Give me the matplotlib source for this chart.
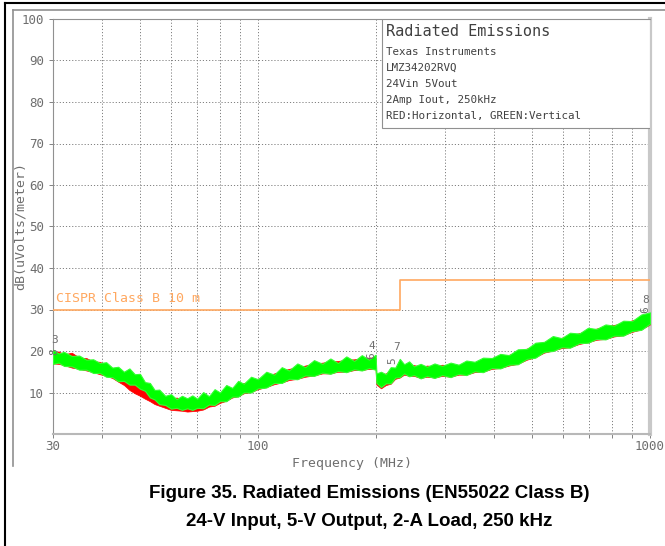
import matplotlib.pyplot as plt
from matplotlib.lines import Line2D
import numpy as np

# measured field strength, dB(uV/m) vs MHz
freq = [30, 31, 32, 33.5, 35, 36.5, 38, 39.5, 41, 42.5, 44, 45.5, 47, 48.5, 50,
        51.5, 53, 54.5, 56, 58, 60, 62, 64, 66, 68, 70, 72.5, 75, 77.5, 80, 83,
        86, 89, 92, 96, 100, 105, 110, 115, 120, 126, 132, 139, 146, 153, 160,
        168, 176, 184, 192, 199.5, 200.5, 206, 212, 218, 224, 230, 236, 243,
        250, 260, 270, 282, 295, 310, 325, 340, 357, 375, 395, 415, 437, 460,
        485, 510, 537, 565, 595, 625, 660, 695, 730, 770, 810, 855, 900, 950, 1000]

# vertical polarisation (upper / lower edge of the trace)
green_hi = [20.3, 19.4, 19.8, 18.8, 18.9, 17.9, 18.0, 17.1, 17.3, 16.0, 16.2, 15.0,
            15.8, 14.4, 14.5, 12.5, 12.3, 10.6, 10.7, 9.2, 9.6, 8.4, 9.2, 8.6, 9.3,
            8.5, 10.1, 9.1, 10.8, 10.0, 11.8, 11.1, 12.8, 12.1, 13.8, 13.2, 15.0,
            14.3, 16.1, 15.3, 17.0, 16.1, 17.8, 16.9, 18.2, 17.1, 18.7, 17.6, 19.0,
            17.9, 19.1, 14.6, 15.0, 14.4, 16.1, 16.0, 18.1, 16.8, 17.5, 16.3, 16.9,
            16.2, 17.0, 16.4, 17.2, 16.7, 17.7, 17.4, 18.4, 18.3, 19.3, 19.0, 20.4,
            20.5, 22.0, 22.2, 23.6, 23.1, 24.4, 24.2, 25.6, 25.3, 26.4, 26.1, 27.3,
            27.2, 28.8, 29.3]
green_lo = [16.9, 17.2, 16.4, 16.3, 15.5, 15.5, 14.7, 14.7, 13.8, 13.7, 12.7, 12.8,
            11.9, 11.9, 10.9, 10.4, 8.8, 8.3, 7.2, 7.0, 6.1, 6.3, 5.8, 6.2, 5.8,
            6.3, 6.2, 7.1, 7.0, 7.9, 7.9, 9.0, 9.0, 10.0, 10.0, 11.0, 11.2, 12.3,
            12.3, 13.3, 13.2, 14.1, 14.0, 14.8, 14.5, 15.2, 14.9, 15.6, 15.3, 15.9,
            15.5, 12.3, 11.3, 12.2, 12.2, 13.6, 13.7, 14.6, 13.9, 14.2, 13.4, 14.0,
            13.5, 14.2, 13.7, 14.5, 14.2, 15.1, 14.9, 15.9, 15.8, 16.7, 16.8, 18.1,
            18.4, 19.8, 20.0, 20.9, 20.8, 21.9, 22.0, 22.9, 22.8, 23.7, 23.7, 24.8,
            25.1, 26.6]
# horizontal polarisation
red_hi = [19.7, 19.9, 19.2, 19.6, 18.4, 18.3, 17.5, 17.4, 16.6, 15.9, 15.1, 14.2,
          13.3, 12.4, 11.7, 10.9, 10.2, 9.6, 9.3, 8.9, 8.4, 8.8, 8.1, 8.4, 8.2, 8.1,
          8.8, 8.8, 9.6, 9.8, 10.6, 11.0, 11.8, 12.3, 12.6, 13.3, 14.0, 14.6, 15.2,
          15.7, 16.1, 16.5, 17.0, 17.2, 17.5, 17.6, 17.9, 18.0, 18.3, 18.4, 18.5,
          14.3, 14.3, 14.6, 15.4, 15.8, 16.8, 16.6, 16.4, 16.6, 16.2, 16.5, 16.3,
          16.7, 16.5, 16.6, 17.2, 17.2, 17.6, 18.3, 18.7, 19.1, 19.7, 20.6, 21.2,
          22.2, 22.6, 23.2, 23.8, 24.3, 25.0, 25.4, 26.0, 26.3, 26.7, 27.4, 28.0,
          28.9]
red_lo = [17.0, 16.9, 16.6, 16.0, 15.7, 15.3, 14.9, 14.4, 14.0, 13.5, 12.6, 11.8,
          10.6, 9.8, 9.2, 8.5, 7.9, 7.2, 6.8, 6.3, 5.8, 5.7, 5.6, 5.4, 5.5, 5.6,
          5.9, 6.6, 6.8, 7.5, 8.0, 8.8, 9.1, 9.8, 10.1, 10.8, 11.3, 12.0, 12.4,
          13.0, 13.3, 13.8, 14.1, 14.6, 14.6, 15.0, 15.0, 15.4, 15.4, 15.7, 15.6,
          11.9, 11.0, 11.8, 12.1, 13.3, 13.6, 14.3, 14.0, 14.0, 13.5, 13.8, 13.6,
          14.0, 13.8, 14.3, 14.3, 14.9, 15.0, 15.7, 15.9, 16.5, 16.9, 17.9, 18.5,
          19.6, 20.1, 20.7, 20.9, 21.7, 22.1, 22.7, 22.9, 23.5, 23.8, 24.6, 25.2,
          26.4]

# CISPR 22 class B limit at 10 m
limit_f = [30, 230, 230, 1000]
limit_db = [30, 30, 37, 37]

info = ['Texas Instruments', 'LMZ34202RVQ', '24Vin 5Vout',
        '2Amp Iout, 250kHz', 'RED:Horizontal, GREEN:Vertical']

GREY = '#6e6e6e'
MONO = 'DejaVu Sans Mono'

fig = plt.figure(figsize=(6.65, 5.46), dpi=100)
ax = fig.add_axes([53/665, 1-434/546, 597/665, 415/546])

ax.set_xscale('log')
ax.set_xlim(30, 1000)
ax.set_ylim(0, 100)

ax.fill_between(freq, red_lo, red_hi, color='#ff0000', lw=0.5, zorder=3)
ax.fill_between(freq, green_lo, green_hi, facecolor='#00ff00', edgecolor='#33ff33',
                lw=0.8, zorder=4)
ax.plot(limit_f, limit_db, color='#ffa860', lw=1.2, zorder=5)
ax.text(30.6, 31.2, 'CISPR Class B 10 m', color='#ffa860', fontsize=9.5,
        family=MONO, va='bottom', zorder=5)

# marker numbers
for f, v, s, r in [(30.3, 22.6, '3', 0), (30.3, 19.9, '8', 90), (195, 21.3, '4', 0),
                   (195, 18.9, '6', 90), (226, 21.0, '7', 0), (220, 17.6, '5', 90),
                   (975, 32.3, '8', 0), (975, 29.9, '6', 90)]:
    ax.text(f, v, s, color=GREY, fontsize=8, family=MONO, rotation=r,
            ha='center', va='center', zorder=6)

ax.set_yticks(range(10, 101, 10))
ax.set_xticks([30, 100, 1000])
ax.set_xticklabels(['30', '100', '1000'])
ax.set_xticks([40, 50, 60, 70, 80, 90, 200, 300, 400, 500, 600, 700, 800, 900],
              minor=True)
ax.tick_params(axis='both', which='both', colors=GREY, labelsize=9, length=3,
               width=0.6, labelcolor=GREY)
ax.tick_params(axis='x', which='major', pad=1)
for lab in ax.get_xticklabels() + ax.get_yticklabels():
    lab.set_family(MONO)
ax.grid(True, which='both', color='#808080', linestyle=(0, (1.2, 2)), lw=0.7)
ax.set_axisbelow(True)

ax.set_xlabel('Frequency (MHz)', family=MONO, fontsize=9.5, color=GREY, labelpad=3)
ax.set_ylabel('dB(uVolts/meter)', family=MONO, fontsize=9.5, color=GREY)
ax.yaxis.set_label_coords((27-53)/597, 0.5)

ax.spines['left'].set_color('#909090')
ax.spines['top'].set_color('#909090')
ax.spines['bottom'].set_color('#b8b8b8')
ax.spines['bottom'].set_linewidth(1.5)
ax.spines['right'].set_color('#c8c8c8')
ax.spines['right'].set_linewidth(3)

# info box in the upper right
bx0, by0 = (382-53)/597, (434-128)/415
box = plt.Rectangle((bx0, by0), 1-bx0, 1-by0, transform=ax.transAxes,
                    facecolor='white', edgecolor='#909090', lw=0.8, zorder=7)
ax.add_patch(box)
ax.text(bx0+0.007, 1-(32-19)/415, 'Radiated Emissions', transform=ax.transAxes,
        family=MONO, fontsize=11, color='#404040', va='center', zorder=8)
for i, line in enumerate(info):
    ax.text(bx0+0.007, 1-(52-19+i*16)/415, line, transform=ax.transAxes,
            family=MONO, fontsize=7.8, color='#404040', va='center', zorder=8)

# page frame lines
fig.add_artist(Line2D([5/665, 1], [1-3/546]*2, color='black', lw=1.5))
fig.add_artist(Line2D([5/665]*2, [0, 1-3/546], color='black', lw=1.5))
fig.add_artist(Line2D([13/665, 1], [1-10/546]*2, color='#909090', lw=1.2))
fig.add_artist(Line2D([13/665]*2, [1-466/546, 1-10/546], color='#909090', lw=1.2))

fig.text(369/665, 1-493/546, 'Figure 35. Radiated Emissions (EN55022 Class B)',
         family='Liberation Sans', weight='bold', fontsize=13.5, ha='center', va='center')
fig.text(369/665, 1-521/546, '24-V Input, 5-V Output, 2-A Load, 250 kHz',
         family='Liberation Sans', weight='bold', fontsize=13.5, ha='center', va='center')

fig.savefig('out.png', dpi=100)
